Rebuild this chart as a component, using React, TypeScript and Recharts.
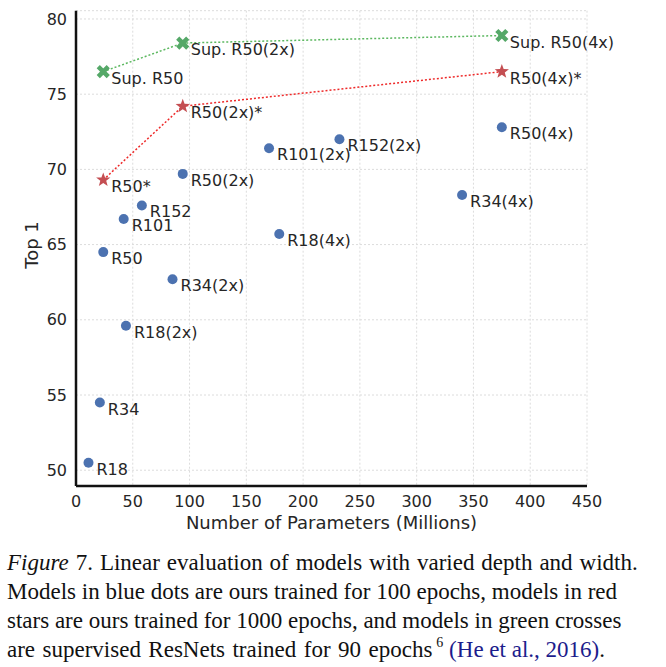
import React from 'react';
import { ScatterChart, Scatter, XAxis, YAxis, CartesianGrid, Label } from 'recharts';

// models trained 100 epochs (blue dots)
const blueNames = ['R18', 'R34', 'R50', 'R101', 'R152', 'R18(2x)', 'R34(2x)', 'R50(2x)', 'R101(2x)', 'R152(2x)', 'R18(4x)', 'R34(4x)', 'R50(4x)'];
const blueParams = [11, 21, 24, 42, 58, 44, 85, 94, 170, 232, 179, 340, 375];
const blueTop1 = [50.5, 54.5, 64.5, 66.7, 67.6, 59.6, 62.7, 69.7, 71.4, 72.0, 65.7, 68.3, 72.8];

// models trained 1000 epochs (red stars)
const redNames = ['R50*', 'R50(2x)*', 'R50(4x)*'];
const redParams = [24, 94, 375];
const redTop1 = [69.3, 74.2, 76.5];

// supervised baselines (green crosses)
const greenNames = ['Sup. R50', 'Sup. R50(2x)', 'Sup. R50(4x)'];
const greenParams = [24, 94, 375];
const greenTop1 = [76.5, 78.4, 78.9];

const xTicks = [0, 50, 100, 150, 200, 250, 300, 350, 400, 450];
const yTicks = [50, 55, 60, 65, 70, 75, 80];

const toRows = (names: string[], xs: number[], ys: number[]) =>
  names.map((name, i) => ({ name, params: xs[i], top1: ys[i] }));

const blueData = toRows(blueNames, blueParams, blueTop1);
const redData = toRows(redNames, redParams, redTop1);
const greenData = toRows(greenNames, greenParams, greenTop1);

const FONT = '"DejaVu Sans", Verdana, sans-serif';
const TEXT = '#262626';

const PointLabel = ({ cx, cy, name }: { cx: number; cy: number; name: string }) => (
  <text x={cx + 8} y={cy + 12} fontFamily={FONT} fontSize={16} fill={TEXT}>
    {name}
  </text>
);

const Dot = (props: any) => {
  const { cx, cy, payload } = props;
  return (
    <g>
      <circle cx={cx} cy={cy} r={5} fill="#4c72b0" />
      <PointLabel cx={cx} cy={cy} name={payload.name} />
    </g>
  );
};

const Star = (props: any) => {
  const { cx, cy, payload } = props;
  const pts: string[] = [];
  for (let i = 0; i < 10; i++) {
    const r = i % 2 === 0 ? 7.5 : 3.1;
    const a = -Math.PI / 2 + (i * Math.PI) / 5;
    pts.push(`${cx + r * Math.cos(a)},${cy + r * Math.sin(a)}`);
  }
  return (
    <g>
      <polygon points={pts.join(' ')} fill="#c44e52" />
      <PointLabel cx={cx} cy={cy} name={payload.name} />
    </g>
  );
};

const Cross = (props: any) => {
  const { cx, cy, payload } = props;
  const s = 5;
  return (
    <g>
      <path
        d={`M${cx - s},${cy - s}L${cx + s},${cy + s}M${cx + s},${cy - s}L${cx - s},${cy + s}`}
        stroke="#55a868"
        strokeWidth={4.5}
        fill="none"
      />
      <PointLabel cx={cx} cy={cy} name={payload.name} />
    </g>
  );
};

const App: React.FC = () => {
  return (
    <div style={{ position: 'absolute', left: 0, top: 0, width: 666, height: 667, background: '#fff' }}>
      <ScatterChart width={666} height={540} margin={{ top: 10.7, right: 79, bottom: 0, left: 0 }}>
        <CartesianGrid stroke="#dcdcdc" strokeDasharray="2 2" />
        <XAxis
          type="number"
          dataKey="params"
          domain={[0, 450]}
          ticks={xTicks}
          height={54}
          tickLine={false}
          tickSize={0}
          tickMargin={10}
          axisLine={{ stroke: '#111', strokeWidth: 2.5 }}
          tick={{ fontFamily: FONT, fontSize: 16, fill: TEXT }}
        >
          <Label
            value="Number of Parameters (Millions)"
            position="insideBottom"
            offset={11}
            style={{ fontFamily: FONT, fontSize: 18, fill: TEXT }}
          />
        </XAxis>
        <YAxis
          type="number"
          dataKey="top1"
          domain={[48.95, 80.55]}
          ticks={yTicks}
          width={76}
          tickLine={false}
          tickSize={0}
          tickMargin={9}
          axisLine={{ stroke: '#111', strokeWidth: 2.5 }}
          tick={{ fontFamily: FONT, fontSize: 16, fill: TEXT }}
        >
          <Label
            content={() => (
              <text
                x={38}
                y={245}
                transform="rotate(-90 38 245)"
                textAnchor="middle"
                fontFamily={FONT}
                fontSize={18}
                fill={TEXT}
              >
                Top 1
              </text>
            )}
          />
        </YAxis>
        <Scatter data={blueData} shape={Dot} isAnimationActive={false} />
        <Scatter
          data={redData}
          shape={Star}
          line={{ stroke: '#ee2a2a', strokeWidth: 1.5, strokeDasharray: '2 2' }}
          isAnimationActive={false}
        />
        <Scatter
          data={greenData}
          shape={Cross}
          line={{ stroke: '#5cb860', strokeWidth: 1.5, strokeDasharray: '2 2' }}
          isAnimationActive={false}
        />
      </ScatterChart>
      <div
        style={{
          position: 'absolute',
          left: 7,
          top: 548,
          fontFamily: '"Liberation Serif", "Times New Roman", serif',
          fontSize: 23,
          lineHeight: '29px',
          color: '#111',
          whiteSpace: 'nowrap',
        }}
      >
        <span style={{ wordSpacing: 1.2 }}>
          <i>Figure</i> 7. Linear evaluation of models with varied depth and width.
        </span>
        <br />
        Models in blue dots are ours trained for 100 epochs, models in red
        <br />
        stars are ours trained for 1000 epochs, and models in green crosses
        <br />
        <span style={{ wordSpacing: 1.7 }}>are supervised ResNets trained for 90 epochs</span>
        <span style={{ fontSize: 14, position: 'relative', top: -10, marginLeft: 4 }}>6</span>{' '}
        <span style={{ color: '#1c1c8c' }}>(He et al., 2016)</span>.
      </div>
    </div>
  );
};

export default App;
